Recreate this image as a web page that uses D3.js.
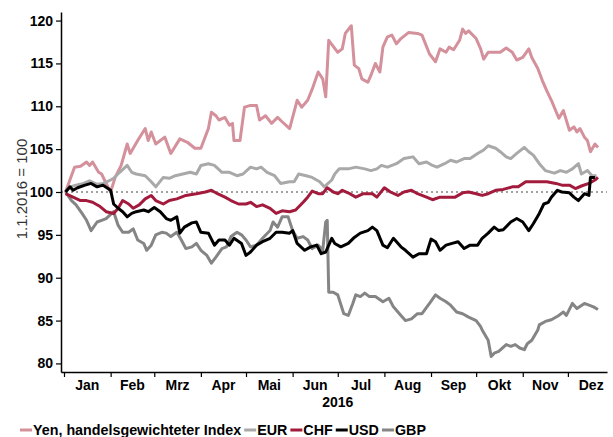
<!DOCTYPE html>
<html>
  <head>
    <meta charset="utf-8">
    <title>Wechselkurse 2016</title>
    <style>
      html, body {
        margin: 0;
        padding: 0;
        background: #fff;
      }
      text {
        font-family: "Liberation Sans", Arial, sans-serif;
      }
    </style>
  </head>
  <body>
    <script src="https://cdn.jsdelivr.net/npm/d3@7"></script>
    <div id="chart"></div>
    <script>

      // Series: [day of 2016 (0 = 1 Jan), index value]
      var yen = [[1,100],[7,102.9],[11,103.0],[15,103.5],[17,103.1],[19,103.5],[23,102.3],[25,102.1],[28,101.0],[31,100.0],
        [34,101.7],[38,103.1],[42,105.6],[44,104.5],[49,106.0],[54,107.4],[56,106.0],[58,107.0],[61,105.6],[67,106.4],
        [71,104.5],[77,106.2],[82,105.8],[87,105.1],[91,105.1],[96,107.4],[98,109.3],[101,108.9],[103,108.4],[107,108.7],
        [110,107.8],[112,108.0],[113,106.0],[117,106.0],[120,109.9],[124,110.1],[128,110.1],[130,108.4],[134,108.9],[138,108.0],
        [142,108.7],[145,108.2],[150,107.4],[155,110.7],[158,109.9],[162,110.7],[165,112.0],[169,114.0],[172,113.2],[174,111.1],
        [176,117.7],[179,117.0],[182,116.3],[185,116.7],[187,118.5],[191,119.4],[193,114.8],[196,114.4],[198,113.2],[202,112.8],
        [204,113.6],[207,115.0],[210,114.0],[212,116.9],[215,118.1],[218,118.3],[221,117.3],[224,117.9],[229,118.6],[235,118.5],
        [238,118.3],[243,116.1],[247,115.2],[250,116.7],[254,116.3],[256,116.9],[259,116.6],[263,117.7],[265,119.0],[267,118.5],
        [269,118.8],[274,117.9],[277,116.7],[279,115.5],[282,116.3],[286,116.3],[290,116.3],[294,116.8],[298,116.3],[301,115.4],
        [305,115.7],[309,116.7],[311,115.7],[315,114.4],[318,113.0],[321,111.8],[324,110.7],[329,108.6],[332,109.5],[336,107.2],
        [339,107.6],[341,107.0],[343,107.4],[346,106.4],[348,106.0],[350,104.7],[353,105.6],[355,105.2]]

      var eur = [[1,100],[4,100.6],[8,100.8],[13,101.0],[17,101.3],[22,100.9],[26,101.0],[31,101.4],[33,101.6],[37,102.3],
        [42,103.1],[45,102.3],[48,102.1],[54,101.9],[58,101.2],[61,100.6],[66,101.7],[70,101.6],[74,101.9],[79,102.1],
        [84,102.3],[88,102.1],[91,103.1],[96,103.3],[100,103.1],[105,102.3],[110,102.3],[115,101.9],[119,102.1],[124,102.9],
        [128,102.7],[131,102.9],[135,102.3],[140,101.9],[144,101.0],[150,101.2],[153,101.2],[156,102.1],[161,101.9],[165,101.7],
        [170,101.2],[173,100.6],[178,101.4],[180,102.1],[183,102.7],[189,102.7],[194,102.9],[200,102.7],[204,102.5],[208,102.7],
        [211,103.1],[215,102.9],[221,103.3],[226,103.9],[232,104.1],[236,103.3],[241,103.5],[245,103.1],[248,102.9],[253,103.3],
        [257,103.7],[261,103.5],[266,103.9],[270,103.9],[275,104.5],[279,104.9],[282,105.4],[287,105.1],[290,104.7],[294,104.1],
        [297,103.9],[301,104.5],[306,105.2],[309,104.7],[312,104.3],[316,103.3],[320,102.5],[326,102.2],[330,102.5],[334,102.3],
        [338,102.7],[342,103.3],[344,102.1],[348,102.5],[351,101.9],[354,101.9]]

      var chf = [[1,99.8],[6,99.4],[11,99.0],[15,99.0],[19,98.8],[24,98.3],[28,97.7],[33,97.5],[36,98.1],[39,99.0],
        [43,98.6],[46,98.1],[50,98.5],[54,99.2],[58,99.6],[61,99.0],[66,98.6],[70,99.0],[75,99.2],[81,99.6],
        [88,99.8],[94,100.0],[98,100.2],[102,99.8],[107,99.4],[111,99.0],[116,98.6],[121,98.6],[124,98.8],[128,98.3],
        [132,98.5],[137,98.1],[141,97.5],[145,97.8],[150,97.7],[154,97.9],[159,98.8],[162,99.4],[165,100.1],[169,99.8],
        [172,99.8],[175,100.5],[179,100.0],[182,99.8],[185,100.2],[190,99.8],[194,99.4],[199,99.8],[205,99.8],[208,99.4],
        [213,100.5],[217,100.0],[222,99.6],[226,100.0],[231,100.2],[235,99.8],[241,99.4],[245,99.1],[250,99.4],[255,99.4],
        [260,99.4],[265,99.9],[269,100.0],[274,99.8],[278,99.6],[282,99.8],[287,100.2],[292,100.3],[298,100.6],[302,100.6],
        [307,101.2],[311,101.2],[316,101.2],[321,101.2],[327,101.0],[331,100.8],[336,100.8],[340,100.4],[344,100.7],[349,101.0],
        [353,101.4],[355,101.7]]

      var usd = [[1,100],[4,100.6],[6,100.2],[9,100.5],[14,100.8],[18,101.0],[22,100.6],[26,100.8],[31,100.2],[33,98.6],
        [36,98.1],[39,97.7],[42,97.1],[45,97.5],[48,97.7],[53,97.9],[56,97.7],[60,98.2],[64,97.7],[68,96.9],
        [71,96.7],[75,97.1],[77,95.2],[80,95.9],[85,96.4],[88,96.5],[91,95.3],[96,95.2],[100,93.8],[103,94.4],
        [107,94.4],[110,93.8],[113,94.6],[118,94.0],[121,92.6],[124,93.0],[128,93.8],[132,94.2],[137,94.6],[141,95.3],
        [145,95.3],[150,95.2],[152,95.5],[155,94.0],[160,93.2],[164,93.6],[168,93.8],[171,92.8],[174,93.0],[178,94.6],
        [180,94.0],[184,93.6],[189,94.0],[193,94.7],[197,95.2],[202,95.5],[205,95.9],[208,95.5],[212,93.8],[215,93.5],
        [219,94.6],[224,93.6],[227,93.2],[232,92.4],[236,92.8],[241,92.8],[244,94.5],[247,94.2],[250,93.2],[254,93.8],
        [258,94.0],[262,94.2],[266,93.4],[270,93.8],[275,93.8],[278,94.6],[282,95.2],[286,95.9],[289,95.5],[292,95.6],
        [297,96.5],[301,96.9],[305,96.5],[309,95.5],[312,96.3],[316,97.5],[319,98.6],[322,98.8],[324,99.4],[328,100.2],
        [331,100.0],[336,99.9],[339,99.4],[342,99.0],[346,99.8],[349,99.6],[350,101.7],[353,101.7]]

      var gbp = [[1,100],[5,99.0],[8,98.5],[12,97.5],[15,96.7],[18,95.5],[22,96.5],[25,96.7],[28,96.9],[33,97.7],
        [36,96.1],[39,95.3],[43,95.3],[46,95.7],[49,94.4],[53,94.0],[55,93.2],[58,93.8],[61,95.0],[65,95.3],
        [68,95.2],[71,94.8],[75,95.3],[78,94.4],[81,93.4],[85,93.6],[88,94.0],[91,93.2],[95,92.6],[98,91.7],
        [101,92.4],[105,93.4],[108,93.6],[111,94.8],[115,95.3],[118,95.0],[121,94.4],[124,93.6],[128,93.8],[132,94.6],
        [137,95.5],[139,96.5],[142,95.9],[145,97.1],[149,97.1],[152,95.5],[155,94.6],[159,94.8],[162,94.4],[165,93.4],
        [169,93.8],[172,93.2],[174,96.5],[175,96.7],[176,88.3],[179,88.3],[182,88.0],[186,85.8],[189,85.6],[192,87.0],
        [194,88.0],[197,87.8],[200,88.2],[203,87.8],[207,87.8],[212,87.2],[216,87.6],[219,86.6],[224,85.6],[227,85.0],
        [231,85.2],[235,85.8],[238,85.8],[243,87.0],[247,88.0],[250,87.6],[254,87.2],[257,86.8],[261,86.0],[265,85.8],
        [269,85.4],[274,85.0],[277,84.3],[278,83.9],[282,82.7],[284,80.8],[286,81.2],[289,81.4],[294,82.2],[297,82.0],
        [300,82.2],[303,81.8],[306,81.6],[308,82.3],[311,82.7],[315,83.9],[316,84.5],[320,84.9],[324,85.1],[329,85.6],
        [332,86.0],[334,85.6],[338,87.0],[341,86.4],[346,87.0],[349,86.8],[352,86.6],[355,86.3]]

      var months = ['Jan','Feb','Mrz','Apr','Mai','Jun','Jul','Aug','Sep','Okt','Nov','Dez']
      var yTicks = [80, 85, 90, 95, 100, 105, 110, 115, 120]

      var series = [
        {name: 'Yen, handelsgewichteter Index', data: yen, color: '#d4909b'},
        {name: 'EUR', data: eur, color: '#a9a9a9'},
        {name: 'CHF', data: chf, color: '#a31b3c'},
        {name: 'USD', data: usd, color: '#000000'},
        {name: 'GBP', data: gbp, color: '#858585'}
      ]
      // drawing order (back to front)
      var drawOrder = ['Yen, handelsgewichteter Index', 'EUR', 'GBP', 'CHF', 'USD']

      var width = 613, height = 437
      var start = new Date(2016, 0, 1)
      function toDate(d) { return d3.timeDay.offset(start, d) }

      var svg = d3.select('#chart')
        .append('svg')
        .attr('width', width)
        .attr('height', height)

      var x = d3.scaleTime()
        .domain([new Date(2015, 11, 30), new Date(2016, 11, 27)])
        .range([61, 607])

      var y = d3.scaleLinear()
        .domain([79, 121])
        .range([372, 12])

      // reference line at 100
      svg.append('line')
        .attr('x1', 61).attr('x2', 607)
        .attr('y1', y(100)).attr('y2', y(100))
        .attr('stroke', '#444')
        .attr('stroke-width', 1.2)
        .attr('stroke-dasharray', '2,3')

      var line = d3.line()
        .x(function(d) { return x(toDate(d[0])) })
        .y(function(d) { return y(d[1]) })

      drawOrder.forEach(function(n) {
        var s = series.find(function(d) { return d.name == n })
        svg.append('path')
          .datum(s.data)
          .attr('fill', 'none')
          .attr('stroke', s.color)
          .attr('stroke-width', 3)
          .attr('stroke-linejoin', 'round')
          .attr('d', line)
      })

      // Y axis
      var yAxis = svg.append('g')
        .attr('transform', 'translate(61,0)')
        .call(d3.axisLeft(y).tickValues(yTicks).tickSize(5).tickSizeOuter(0))
      yAxis.select('.domain').attr('stroke', '#000').attr('stroke-width', 1.5)
      yAxis.selectAll('.tick line').attr('stroke', '#000').attr('stroke-width', 1.2)
      yAxis.selectAll('.tick text')
        .attr('x', -8)
        .style('font-family', '"Liberation Sans", Arial, sans-serif')
        .style('font-size', '14px')
        .style('font-weight', 'bold')
        .attr('fill', '#000')

      // X axis, ticks at month starts
      var xAxis = svg.append('g')
        .attr('transform', 'translate(0,372)')
        .call(d3.axisBottom(x).ticks(d3.timeMonth.every(1)).tickSize(5).tickSizeOuter(0).tickFormat(''))
      xAxis.select('.domain').attr('stroke', '#000').attr('stroke-width', 1.5)
      xAxis.selectAll('.tick line').attr('stroke', '#000').attr('stroke-width', 1.2)

      // month labels centred in each month
      svg.append('g').selectAll('text')
        .data(months)
        .enter()
        .append('text')
        .attr('x', function(d, i) {
          return (x(new Date(2016, i, 1)) + x(new Date(2016, i + 1, 1))) / 2
        })
        .attr('y', 390)
        .attr('text-anchor', 'middle')
        .style('font-size', '14px')
        .style('font-weight', 'bold')
        .text(function(d) { return d })

      svg.append('text')
        .attr('x', x(new Date(2016, 6, 1)))
        .attr('y', 407)
        .attr('text-anchor', 'middle')
        .style('font-size', '14px')
        .style('font-weight', 'bold')
        .text('2016')

      // Y title
      svg.append('text')
        .attr('transform', 'translate(27,189) rotate(-90)')
        .attr('text-anchor', 'middle')
        .style('font-size', '15px')
        .attr('fill', '#333')
        .text('1.1.2016 = 100')

      // Legend
      var legend = svg.append('g').attr('transform', 'translate(20,435)')
      var lx = 0
      series.forEach(function(s) {
        legend.append('line')
          .attr('x1', lx).attr('x2', lx + 12)
          .attr('y1', -5).attr('y2', -5)
          .attr('stroke', s.color)
          .attr('stroke-width', 3)
        var t = legend.append('text')
          .attr('x', lx + 13)
          .attr('y', 0)
          .style('font-size', '14.3px')
          .style('font-weight', 'bold')
          .text(s.name)
        lx += 13 + t.node().getComputedTextLength() + 3
      })

    </script>
  </body>
</html>
